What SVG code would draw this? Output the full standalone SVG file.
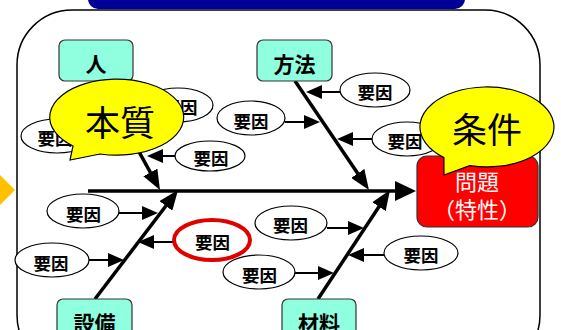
<svg xmlns="http://www.w3.org/2000/svg" width="561" height="330" viewBox="0 0 561 330">
<style>
.lbl{font-family:"Noto Sans CJK JP","Noto Sans CJK SC",sans-serif;font-weight:bold;text-anchor:middle;dominant-baseline:central;fill:#000}
.f{font-size:17.5px}
.cat{font-size:21px}
.box{fill:#90FFE0;stroke:#333;stroke-width:1.2}
.el{fill:#fff;stroke:#000;stroke-width:1.2}
.sub{stroke:#000;stroke-width:2;fill:none;marker-end:url(#ms)}
.bone{stroke:#000;stroke-width:3.5;fill:none;marker-end:url(#mb)}
.bub{fill:#FFFF00;stroke:#000;stroke-width:1.2}
.big{font-family:"Noto Sans CJK JP","Noto Sans CJK SC",sans-serif;font-size:35px;text-anchor:middle;dominant-baseline:central;fill:#000}
.prob{font-family:"Noto Sans CJK JP","Noto Sans CJK SC",sans-serif;font-size:22px;text-anchor:middle;dominant-baseline:central;fill:#fff}
</style>
<defs>
<marker id="ms" markerUnits="userSpaceOnUse" markerWidth="16" markerHeight="14" refX="10" refY="7" orient="auto"><path d="M0,0 L16,7 L0,14 z" fill="#000"/></marker>
<marker id="mb" markerUnits="userSpaceOnUse" markerWidth="20" markerHeight="16" refX="14" refY="8" orient="auto"><path d="M0,0 L20,8 L0,16 z" fill="#000"/></marker>
<marker id="mm" markerUnits="userSpaceOnUse" markerWidth="21" markerHeight="20" refX="15" refY="10" orient="auto"><path d="M0,0 L21,10 L0,20 z" fill="#000"/></marker>
</defs>
<rect id="frame" x="17" y="10" width="523" height="360" rx="55" fill="#fff" stroke="#000" stroke-width="1.5"/>
<rect id="titlebar" x="88" y="-30" width="377" height="39" rx="10" fill="#000099"/>
<polygon id="pointer" points="15,190 -10,165 -35,190 -10,215" fill="#FFC000"/>
<g id="connectors">
<line x1="88" y1="191" x2="410" y2="191" stroke="#000" stroke-width="3.5" marker-end="url(#mm)"/>
<line class="bone" x1="100" y1="81" x2="157.1" y2="184.7"/>
<line class="bone" x1="295" y1="81" x2="365.6" y2="185"/>
<line class="bone" x1="95" y1="299" x2="174.4" y2="194.8"/>
<line class="bone" x1="318" y1="299" x2="386.7" y2="195"/>
<line class="sub" x1="143" y1="105" x2="122" y2="105"/>
<line class="sub" x1="93" y1="136" x2="122" y2="136"/>
<line class="sub" x1="285" y1="122" x2="314" y2="122"/>
<line class="sub" x1="175" y1="156" x2="153" y2="156"/>
<line class="sub" x1="340" y1="92" x2="312" y2="92"/>
<line class="sub" x1="372" y1="139" x2="343" y2="139"/>
<line class="sub" x1="119" y1="213" x2="152" y2="213"/>
<line class="sub" x1="89" y1="260" x2="118" y2="260"/>
<line class="sub" x1="174" y1="242" x2="144" y2="242"/>
<line class="sub" x1="327" y1="228" x2="358" y2="228"/>
<line class="sub" x1="295" y1="273" x2="328" y2="273"/>
<line class="sub" x1="384" y1="255" x2="354" y2="255"/>
</g>
<g id="cause1"><ellipse class="el" cx="178" cy="105" rx="35" ry="17"/><text class="lbl f" x="180" y="106">要因</text></g>
<g id="cause2"><ellipse class="el" cx="57" cy="136" rx="36" ry="17"/><text class="lbl f" x="55" y="137">要因</text></g>
<g id="cause3"><ellipse class="el" cx="251" cy="118" rx="34" ry="17"/><text class="lbl f" x="251" y="120">要因</text></g>
<g id="cause4"><ellipse class="el" cx="210" cy="156" rx="35" ry="15"/><text class="lbl f" x="211" y="157">要因</text></g>
<g id="cause5"><ellipse class="el" cx="375" cy="90" rx="35" ry="17"/><text class="lbl f" x="375" y="91.5">要因</text></g>
<g id="cause6"><ellipse class="el" cx="407" cy="139" rx="35" ry="17"/><text class="lbl f" x="405" y="140">要因</text></g>
<g id="cause7"><ellipse class="el" cx="83" cy="211" rx="36" ry="17"/><text class="lbl f" x="83.5" y="213">要因</text></g>
<g id="cause8"><ellipse class="el" cx="52" cy="260" rx="37" ry="17"/><text class="lbl f" x="51" y="262">要因</text></g>
<g id="cause9"><ellipse cx="212" cy="240" rx="38" ry="20" fill="#fff" stroke="#E00000" stroke-width="4"/><text class="lbl f" x="212.5" y="241.5">要因</text></g>
<g id="cause10"><ellipse class="el" cx="291" cy="223" rx="36" ry="17"/><text class="lbl f" x="290.5" y="224.5">要因</text></g>
<g id="cause11"><ellipse class="el" cx="259" cy="272" rx="36" ry="17"/><text class="lbl f" x="259.5" y="274">要因</text></g>
<g id="cause12"><ellipse class="el" cx="421" cy="253" rx="37" ry="17"/><text class="lbl f" x="421" y="254.5">要因</text></g>
<g id="cat-people"><rect class="box" x="59" y="40" width="74" height="41" rx="6"/><text class="lbl cat" x="96" y="63">人</text></g>
<g id="cat-method"><rect class="box" x="257" y="40" width="75" height="41" rx="6"/><text class="lbl cat" x="294.5" y="62.5">方法</text></g>
<g id="cat-equipment"><rect class="box" x="57" y="299" width="75" height="45" rx="6"/><text class="lbl cat" x="94.5" y="322">設備</text></g>
<g id="cat-material"><rect class="box" x="282" y="299" width="74" height="45" rx="6"/><text class="lbl cat" x="319" y="322">材料</text></g>
<g id="problem"><rect x="417" y="156" width="121" height="71" rx="10" fill="#FF0000" stroke="#333" stroke-width="1.2"/><text class="prob" x="477" y="180">問題</text><text class="prob" x="477" y="208"><tspan x="444">（</tspan><tspan x="477">特性</tspan><tspan x="510">）</tspan></text></g>
<g id="bubble-essence"><path class="bub" d="M100,154 A67,38 0 1 0 73,146 L70,160 Z"/><text class="big" x="120" y="120">本質</text></g>
<g id="bubble-condition"><path class="bub" d="M469.7,165.6 A67,40 0 1 0 443.9,157.6 L444,175 Z"/><text class="big" x="487" y="127">条件</text></g>
</svg>
